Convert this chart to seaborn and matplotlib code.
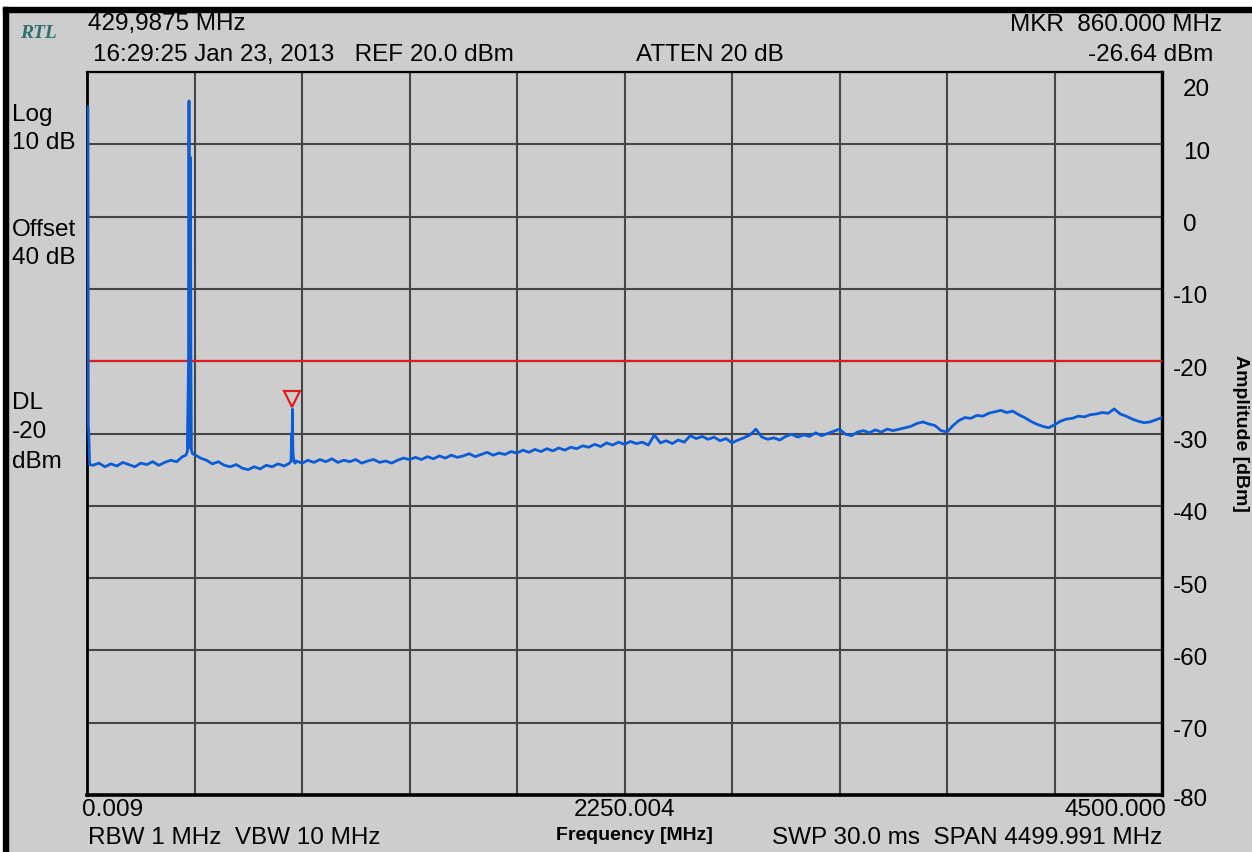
import numpy as np
import pandas as pd
import matplotlib
matplotlib.use("Agg")
import matplotlib.pyplot as plt
import matplotlib.transforms as mtransforms
from matplotlib.patches import Rectangle
import seaborn as sns

# ---------------- data ----------------
span_start_mhz = 0.009
span_stop_mhz = 4500.0
floor_step_mhz = 25.0
# noise floor (dBm) read at 25, 50, ..., 4500 MHz
noise_floor_dbm = [
    -34.4, -34.1, -34.6, -34.2, -34.5, -34.0, -34.3, -34.6, -34.1, -34.3,
    -33.9, -34.4, -34.0, -33.7, -33.9, -33.2, -32.6, -32.9, -33.4, -33.7,
    -34.2, -33.9, -34.4, -34.6, -34.3, -34.8, -35.0, -34.6, -34.9, -34.4,
    -34.6, -34.2, -34.5, -34.1, -33.8, -34.1, -33.7, -34.0, -33.6, -33.9,
    -33.5, -34.0, -33.7, -33.9, -33.6, -34.1, -33.8, -33.6, -34.0, -33.8,
    -34.1, -33.7, -33.4, -33.6, -33.3, -33.6, -33.2, -33.5, -33.1, -33.4,
    -33.0, -33.3, -33.1, -32.8, -33.2, -32.9, -32.6, -33.0, -32.7, -32.9,
    -32.5, -32.7, -32.3, -32.6, -32.2, -32.5, -32.1, -32.4, -32.0, -32.3,
    -31.9, -32.1, -31.7, -31.9, -31.5, -31.8, -31.3, -31.6, -31.2, -31.5,
    -31.1, -31.4, -31.2, -31.6, -30.2, -31.3, -31.0, -31.4, -30.9, -31.2,
    -30.3, -30.7, -30.4, -30.8, -30.5, -31.0, -30.7, -31.3, -30.9, -30.6,
    -30.2, -29.4, -30.5, -30.8, -30.6, -30.9, -30.4, -30.1, -30.5, -30.2,
    -30.4, -29.9, -30.3, -30.0, -29.7, -29.4, -30.1, -30.3, -29.8, -29.6,
    -29.9, -29.5, -29.8, -29.4, -29.6, -29.4, -29.2, -29.0, -28.6, -28.4,
    -28.7, -28.9, -29.6, -29.8, -28.9, -28.2, -27.8, -27.9, -27.5, -27.6,
    -27.2, -27.0, -26.8, -27.1, -26.9, -27.4, -27.8, -28.3, -28.7, -29.0,
    -29.2, -28.8, -28.3, -28.0, -27.9, -27.6, -27.7, -27.4, -27.3, -27.1,
    -27.2, -26.6, -27.3, -27.6, -28.0, -28.3, -28.5, -28.4, -28.1, -27.8,
]

lo_spike_freq_mhz = [0.009, 4.0, 5.5, 7.0, 11.0]
lo_spike_level_dbm = [15.2, 15.2, -29.0, -29.5, -34.3]

peak430_freq_mhz = [414, 420, 425, 427, 429, 431, 433, 435, 437, 442]
peak430_level_dbm = [-33.0, -32.5, -20.0, 16.0, -25.0, -32.0, 8.2, -20.0, -32.3, -32.8]

peak860_freq_mhz = [848, 854, 857, 858.5, 860, 862, 866, 872]
peak860_level_dbm = [-34.1, -33.8, -30.0, -33.0, -26.64, -32.5, -33.9, -34.1]

display_line_dbm = -20.0
marker_freq_mhz = 860.0
marker_level_dbm = -26.64

y_ticks = [20, 10, 0, -10, -20, -30, -40, -50, -60, -70, -80]
y_tick_labels = ["20", "10", "0", "-10", "-20", "-30", "-40", "-50", "-60", "-70", "-80"]
x_tick_labels = ["0.009", "", "", "", "", "2250.004", "", "", "", "", "4500.000"]

# ---------------- build trace ----------------
floor_freq = np.arange(1, len(noise_floor_dbm) + 1) * floor_step_mhz
floor = pd.DataFrame({"freq": floor_freq, "level": noise_floor_dbm})
peaks = [
    (lo_spike_freq_mhz, lo_spike_level_dbm),
    (peak430_freq_mhz, peak430_level_dbm),
    (peak860_freq_mhz, peak860_level_dbm),
]
parts = []
for pf, pl in peaks:
    floor = floor[~((floor["freq"] >= min(pf)) & (floor["freq"] <= max(pf)))]
    parts.append(pd.DataFrame({"freq": pf, "level": pl}))
trace = pd.concat([floor] + parts).sort_values("freq").reset_index(drop=True)

# ---------------- style ----------------
W, H = 1252, 852
BG = "#cdcdcd"
BLUE = "#0b5cd5"
RED = "#e01b1b"
GRID = "#464646"

sns.set_style("white")
plt.rcParams["font.family"] = ["Liberation Sans", "DejaVu Sans"]
plt.rcParams["text.color"] = "black"
plt.rcParams["axes.labelcolor"] = "black"
plt.rcParams["xtick.color"] = "black"
plt.rcParams["ytick.color"] = "black"
plt.rcParams["axes.facecolor"] = BG

fig = plt.figure(figsize=(W / 100, H / 100), dpi=100, facecolor=BG)


def fx(x):
    return x / W


def fy(y):
    return 1 - y / H


# screenshot frame (white margin + black border on top/left)
fig.patches.append(Rectangle((0, fy(7)), 1, 7 / H, transform=fig.transFigure, color="white", zorder=0))
fig.patches.append(Rectangle((0, 0), fx(3), 1, transform=fig.transFigure, color="white", zorder=0))
fig.patches.append(Rectangle((fx(3), fy(12)), 1, 5 / H, transform=fig.transFigure, color="black", zorder=1))
fig.patches.append(Rectangle((fx(3), 0), 5 / W, fy(7), transform=fig.transFigure, color="black", zorder=1))

ax = fig.add_axes([fx(87), fy(795), (1162 - 87) / W, (795 - 72) / H])
ax.set_facecolor(BG)

sns.lineplot(data=trace, x="freq", y="level", ax=ax, color=BLUE, linewidth=2.0,
             estimator=None, sort=False, zorder=3)
ax.axhline(display_line_dbm, color=RED, lw=1.6, zorder=2.8)
mk_tr = ax.transData + mtransforms.ScaledTranslation(0, 7.0 / 72, fig.dpi_scale_trans)
ax.plot([marker_freq_mhz], [marker_level_dbm], marker="v", ms=11, mfc="none", mec=RED,
        mew=1.6, transform=mk_tr, clip_on=False, zorder=4)

ax.set_xlim(span_start_mhz, span_stop_mhz)
ax.set_ylim(-80, 20)
ax.set_xticks(np.linspace(span_start_mhz, span_stop_mhz, len(x_tick_labels)))
ax.set_xticklabels(x_tick_labels)
ax.set_yticks(y_ticks)
ax.set_yticklabels(y_tick_labels)
ax.yaxis.tick_right()
ax.tick_params(axis="both", length=0, labelsize=17.5, colors="black")
ax.tick_params(axis="x", pad=3)
ax.tick_params(axis="y", pad=8)
ax.grid(True, color=GRID, lw=1.5)
ax.set_axisbelow(True)

for side, lw in [("left", 2.0), ("bottom", 2.6), ("right", 2.4), ("top", 1.6)]:
    ax.spines[side].set_visible(True)
    ax.spines[side].set_color("black")
    ax.spines[side].set_linewidth(lw)
    ax.spines[side].set_zorder(2.5)

# tick label fine placement
xl = ax.get_xticklabels()
xl[0].set_ha("left")
xl[0].set_transform(xl[0].get_transform() + mtransforms.ScaledTranslation(-5 / 100, 0, fig.dpi_scale_trans))
xl[-1].set_ha("right")
xl[-1].set_transform(xl[-1].get_transform() + mtransforms.ScaledTranslation(4 / 100, 0, fig.dpi_scale_trans))

for lbl, val in zip(ax.get_yticklabels(), y_ticks):
    dx = 10 if val >= 0 else 0
    if val == 20:
        dy = -15
    elif val == -80:
        dy = -2
    else:
        dy = -6
    lbl.set_transform(lbl.get_transform() + mtransforms.ScaledTranslation(dx / 100, dy / 100, fig.dpi_scale_trans))

ax.yaxis.set_label_position("right")
ax.set_ylabel("Amplitude [dBm]", fontsize=14, fontweight="bold", rotation=270)
ax.yaxis.label.set_va("center")
ax.yaxis.label.set_ha("center")
ax.yaxis.set_label_coords((1240 - 87) / 1075, 0.5)
ax.set_xlabel("Frequency [MHz]", fontsize=14, fontweight="bold")
ax.xaxis.label.set_va("center")
ax.xaxis.set_label_coords((634 - 87) / 1075, -(835 - 795) / 723)

# header / side annotations
TS = 17.5
fig.text(fx(20), fy(33), "RTL", family="Liberation Serif", style="italic", weight="bold",
         color="#2e7070", fontsize=14, ha="left", va="center")
fig.text(fx(88), fy(24), "429,9875 MHz", fontsize=TS, ha="left", va="center")
fig.text(fx(93), fy(55), "16:29:25 Jan 23, 2013   REF 20.0 dBm", fontsize=TS, ha="left", va="center")
fig.text(fx(636), fy(55), "ATTEN 20 dB", fontsize=TS, ha="left", va="center")
fig.text(fx(1222), fy(25), "MKR  860.000 MHz", fontsize=TS, ha="right", va="center")
fig.text(fx(1213), fy(55), "-26.64 dBm", fontsize=TS, ha="right", va="center")

for txt, y in [("Log", 115), ("10 dB", 143), ("Offset", 230), ("40 dB", 258),
               ("DL", 403), ("-20", 432), ("dBm", 462)]:
    fig.text(fx(12), fy(y), txt, fontsize=TS, ha="left", va="center")

fig.text(fx(88), fy(838), "RBW 1 MHz  VBW 10 MHz", fontsize=TS, ha="left", va="center")
fig.text(fx(1162), fy(838), "SWP 30.0 ms  SPAN 4499.991 MHz", fontsize=TS, ha="right", va="center")

fig.savefig("out.png", dpi=100, facecolor=BG)
